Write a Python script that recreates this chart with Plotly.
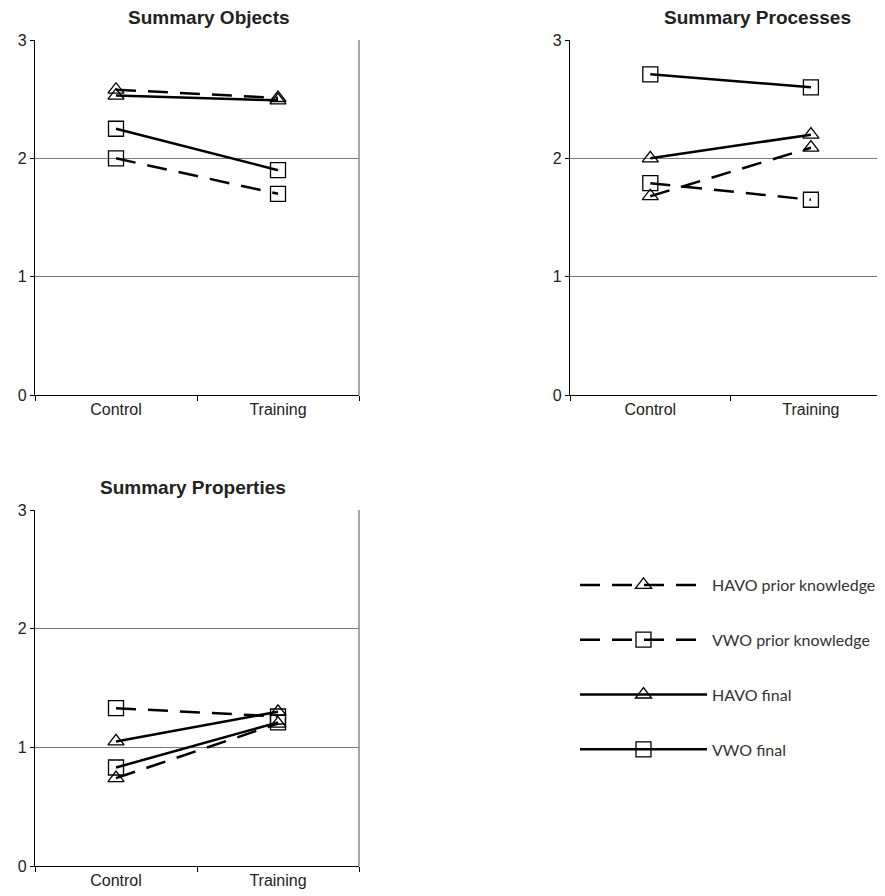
import plotly.graph_objects as go

categories = ["Control", "Training"]
series_names = ["HAVO prior knowledge", "VWO prior knowledge", "HAVO final", "VWO final"]

objects_havo_prior = [2.58, 2.51]
objects_vwo_prior = [2.00, 1.70]
objects_havo_final = [2.53, 2.49]
objects_vwo_final = [2.25, 1.90]

processes_havo_prior = [1.68, 2.09]
processes_vwo_prior = [1.79, 1.65]
processes_havo_final = [2.00, 2.20]
processes_vwo_final = [2.71, 2.60]

properties_havo_prior = [0.74, 1.20]
properties_vwo_prior = [1.33, 1.26]
properties_havo_final = [1.05, 1.30]
properties_vwo_final = [0.83, 1.21]

panel_titles = ["Summary Objects", "Summary Processes", "Summary Properties"]
y_tick_values = [0, 1, 2, 3]

panels = [
    [objects_havo_prior, objects_vwo_prior, objects_havo_final, objects_vwo_final],
    [processes_havo_prior, processes_vwo_prior, processes_havo_final, processes_vwo_final],
    [properties_havo_prior, properties_vwo_prior, properties_havo_final, properties_vwo_final],
]

styles = [
    dict(dash="20px,12px", symbol="triangle-up-open", size=14),
    dict(dash="20px,12px", symbol="square-open", size=15),
    dict(dash="solid", symbol="triangle-up-open", size=14),
    dict(dash="solid", symbol="square-open", size=15),
]

fig = go.Figure()
axis_ids = ["", "2", "3"]
for p, series in enumerate(panels):
    for i, vals in enumerate(series):
        st = styles[i]
        fig.add_trace(go.Scatter(
            x=categories, y=vals, name=series_names[i],
            mode="lines+markers",
            line=dict(color="black", width=2.5, dash=st["dash"]),
            marker=dict(symbol=st["symbol"], size=st["size"], color="black",
                        line=dict(width=1.3, color="black")),
            xaxis="x" + axis_ids[p], yaxis="y" + axis_ids[p],
            showlegend=(p == 0), legendgroup=series_names[i],
        ))

H = 896.0
W = 885.0
top_dom = [1 - 387 / H, 1 - 32 / H]
bot_dom = [1 - 858 / H, 1 - 502 / H]
x_doms = [[27 / W, 351 / W], [562 / W, 1.0], [27 / W, 351 / W]]
y_doms = [top_dom, top_dom, bot_dom]
x_ranges = [[-0.5, 1.5], [-0.5, 1.511], [-0.5, 1.5]]

tickfont = dict(family="Liberation Sans, Arial", size=16, color="#222")
for p in range(3):
    sid = axis_ids[p]
    fig.layout["xaxis" + sid] = dict(
        domain=x_doms[p], range=x_ranges[p], type="category",
        showline=True, linecolor="black", linewidth=1.2,
        ticks="outside", ticklen=5, tickcolor="black", tickson="boundaries",
        showgrid=False, zeroline=False, tickfont=tickfont, automargin=False,
        anchor="y" + sid, fixedrange=True,
    )
    fig.layout["yaxis" + sid] = dict(
        domain=y_doms[p], range=[0, 3], tickvals=y_tick_values,
        showline=True, linecolor="black", linewidth=1.2,
        ticks="outside", ticklen=4, tickcolor="black", automargin=False,
        showgrid=True, gridcolor="#7a7a7a", gridwidth=1, zeroline=False,
        tickfont=tickfont, anchor="x" + sid, fixedrange=True,
    )

# right borders for panels 1 and 3
for sid in ["", "3"]:
    fig.add_shape(type="line", xref="x" + sid + " domain",
                  yref="y" + sid + " domain", x0=1, x1=1, y0=0, y1=1,
                  line=dict(color="#8a8a8a", width=1.5), layer="below")

title_pos = [(201 / W, 1 - 9 / H), (749 / W, 1 - 9 / H), (185 / W, 1 - 479 / H)]
for t, (tx, ty) in zip(panel_titles, title_pos):
    fig.add_annotation(text="<b>" + t + "</b>", x=tx, y=ty, xref="paper", yref="paper",
                       xanchor="center", yanchor="middle", showarrow=False,
                       font=dict(family="Liberation Sans, Arial", size=19, color="#222"))

fig.update_layout(
    width=885, height=896,
    margin=dict(l=0, r=0, t=0, b=0, autoexpand=False),
    paper_bgcolor="white", plot_bgcolor="white",
    legend=dict(x=567 / W, y=1 - 560 / H, xanchor="left", yanchor="top",
                font=dict(family="Lato", size=16, color="#333"),
                itemwidth=127, tracegroupgap=31, bgcolor="rgba(0,0,0,0)"),
)

fig.write_html("out.html")
